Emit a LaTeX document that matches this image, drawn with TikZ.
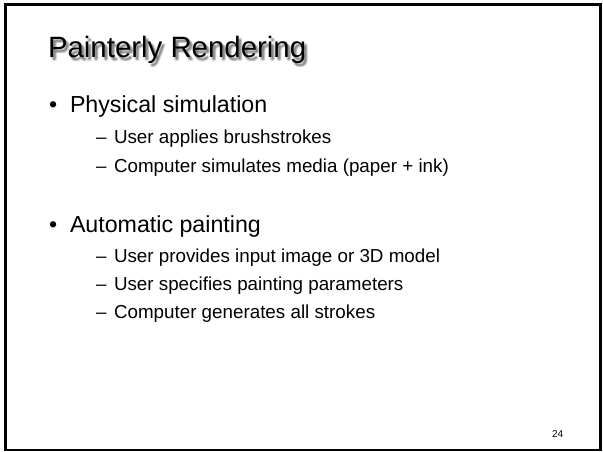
\documentclass[tikz,border=0pt]{standalone}
\usepackage{fontspec}
\setmainfont{Liberation Sans}
% one offset copy of the title, used to build a soft drop shadow
\newcommand\shadowcopy[3]{\rlap{\hspace*{#1pt}\raisebox{-#2pt}{#3}}}
\newcommand\softshadow[1]{%
  \shadowcopy{1.5}{1.5}{#1}\shadowcopy{2.5}{1.5}{#1}\shadowcopy{3.5}{1.5}{#1}%
  \shadowcopy{1.5}{2.5}{#1}\shadowcopy{2.5}{2.5}{#1}\shadowcopy{3.5}{2.5}{#1}%
  \shadowcopy{1.5}{3.5}{#1}\shadowcopy{2.5}{3.5}{#1}\shadowcopy{3.5}{3.5}{#1}%
  \phantom{#1}}
\begin{document}
\begin{tikzpicture}[x=1pt,y=-1pt,
  txt/.style={anchor=base west,inner sep=0pt,outer sep=0pt,text=black},
  titletext/.style={txt,font=\fontsize{29.4}{34}\selectfont},
  lvlone/.style={txt,font=\fontsize{23.2}{28}\selectfont},
  lvltwo/.style={txt,font=\fontsize{18.8}{23}\selectfont},
  pagenum/.style={txt,font=\fontsize{10}{12}\selectfont}]
\useasboundingbox (0,0) rectangle (603,452);
% slide frame
\draw[line width=2.5pt,black] (5.5,4.5) rectangle (600.5,450);

% title with its soft shadow
\node[titletext,text opacity=0.08] (shadow) at (48,58) {\softshadow{Painterly Rendering}};
\node[titletext] (title) at (48,58) {Painterly Rendering};

% first group
\node[lvlone] (b1) at (49,113) {•};
\node[lvlone] (p1) at (70,113) {Physical simulation};
\node[lvltwo] (d11) at (96,143) {–};
\node[lvltwo] (s11) at (114,143) {User applies brushstrokes};
\node[lvltwo] (d12) at (96,172) {–};
\node[lvltwo] (s12) at (114,172) {Computer simulates media (paper + ink)};

% second group
\node[lvlone] (b2) at (49,232) {•};
\node[lvlone] (p2) at (70,232) {Automatic painting};
\node[lvltwo] (d21) at (96,262) {–};
\node[lvltwo] (s21) at (114,262) {User provides input image or 3D model};
\node[lvltwo] (d22) at (96,290) {–};
\node[lvltwo] (s22) at (114,290) {User specifies painting parameters};
\node[lvltwo] (d23) at (96,318) {–};
\node[lvltwo] (s23) at (114,318) {Computer generates all strokes};

% slide number
\node[pagenum] (num) at (552,437) {24};
\end{tikzpicture}
\end{document}
